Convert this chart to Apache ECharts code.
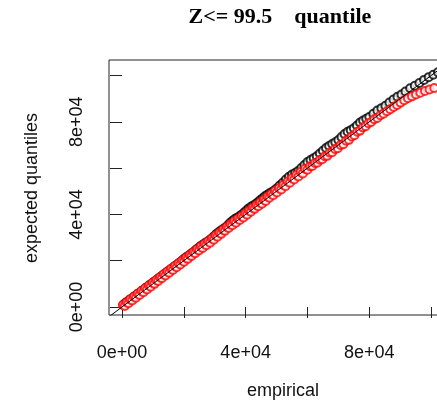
<!DOCTYPE html>
<html>
<head>
<meta charset="utf-8">
<script src="https://cdn.jsdelivr.net/npm/echarts@6/dist/echarts.min.js"></script>
<style>html,body{margin:0;padding:0;background:#fff;}#c{width:437px;height:405px;}</style>
</head>
<body>
<div id="c"></div>
<script>
// empirical (x) vs expected quantiles (y), black series
var blackPts = [[500,1000],[1150,1800],[1800,2300],[2450,3100],[3100,3500],[3750,4300],[4400,4800],[5050,5600],[5700,6100],[6350,6900],[7000,7400],[7650,8200],[8300,8700],[8950,9500],[9600,10000],[10250,10800],[10900,11300],[11550,12100],[12200,12600],[12850,13400],[13500,13900],[14150,14700],[14800,15200],[15450,16000],[16100,16500],[16750,17300],[17400,17800],[18050,18600],[18700,19100],[19350,19900],[20000,20700],[20750,21500],[21500,22100],[22250,22900],[23000,23600],[23750,24500],[24500,25300],[25250,26100],[26000,26800],[26750,27500],[27500,28100],[28250,28800],[29000,29600],[29750,30500],[30500,31500],[31250,32300],[32000,33000],[32750,33700],[33500,34400],[34250,35300],[35000,36400],[35750,37300],[36500,38000],[37250,38600],[38000,39200],[38750,39900],[39500,40800],[40250,41700],[41000,42600],[41750,43300],[42500,43900],[43250,44500],[44000,45300],[44750,46200],[45500,47000],[46250,47800],[47000,48500],[47750,49100],[48500,49700],[49250,50300],[50000,51200],[51000,52500],[52000,53700],[53000,55100],[54000,56300],[55000,57200],[56000,57900],[57000,58800],[58000,60000],[59000,61300],[60000,62600],[61000,63500],[62000,64300],[63000,65100],[64000,66300],[65000,67500],[66000,68700],[67000,69600],[68000,70400],[69000,71200],[70000,72100],[71000,73400],[72000,74700],[73000,75700],[74000,76400],[75000,77200],[76000,78400],[77000,79700],[78000,80600],[79000,81300],[80000,82100],[81300,83500],[82600,84900],[83900,85900],[85200,86900],[86500,88300],[87800,89600],[89100,90800],[90400,91800],[91700,93100],[93200,94500],[94700,95600],[96200,96800],[97700,98100],[99200,99300],[100700,100300],[102200,101400],[103700,102600]];
// red series
var redPts = [[300,900],[900,400],[1500,2100],[2100,1600],[2700,3300],[3300,2800],[3900,4500],[4500,4000],[5100,5700],[5700,5200],[6300,6900],[6900,6400],[7500,8100],[8100,7600],[8700,9300],[9300,8800],[9900,10500],[10500,10000],[11100,11700],[11700,11200],[12300,12900],[12900,12400],[13500,14100],[14100,13600],[14700,15300],[15300,14800],[15900,16500],[16500,16000],[17100,17700],[17700,17200],[18300,18900],[18900,18400],[19500,20100],[20100,19600],[20700,21300],[21300,20800],[21900,22500],[22500,22000],[23100,23700],[23700,23200],[24300,24900],[24900,24400],[25500,26100],[26100,25500],[26700,27200],[27300,26700],[27900,28400],[28500,27800],[29100,29600],[29700,29100],[30300,30900],[30900,30400],[31500,32100],[32100,31600],[32700,33400],[33300,32900],[33900,34600],[34500,34100],[35100,35800],[35700,35300],[36300,37000],[36900,36400],[37500,38100],[38100,37600],[38700,39200],[39300,38700],[39900,40400],[40500,39900],[41100,41600],[41700,41200],[42300,42900],[42900,42400],[43500,44000],[44100,43500],[44700,45100],[45300,44600],[45900,46300],[46500,45800],[47100,47600],[47700,47200],[48300,48800],[48900,48300],[49500,50100],[50100,49500],[50800,51300],[51500,50800],[52200,52700],[52900,52200],[53600,54200],[54300,53700],[55000,55600],[55700,55100],[56400,57000],[57100,56400],[57800,58300],[58500,57700],[59200,59700],[60000,59300],[60800,60800],[61600,60900],[62400,62200],[63200,62300],[64000,63600],[64800,63800],[65600,65100],[66400,65300],[67200,66700],[68000,66900],[68900,68300],[69800,68600],[70700,70000],[71600,70300],[72500,71800],[73400,72200],[74300,73700],[75200,74200],[76100,75700],[77000,76200],[77900,77600],[78800,78100],[79700,79400],[80600,79900],[81600,81100],[82600,81700],[83600,82800],[84600,83500],[85700,84600],[86800,85400],[87900,86400],[89000,87300],[90100,88300],[91300,89300],[92500,90200],[93800,91000],[95100,91800],[96500,92600],[98000,93300],[99500,94000],[101000,94600]];
// reference line y = x
var refLine = [[-10000,-10000],[120000,120000]];
var tickValues = [0,20000,40000,60000,80000,100000];
var labelValues = [0,40000,80000];
var titleText = 'Z<= 99.5    quantile';
var xName = 'empirical';
var yName = 'expected quantiles';

function sci(v){
  if (v === 0) return '0e+00';
  var e = Math.floor(Math.log10(Math.abs(v)));
  var m = v / Math.pow(10, e);
  return (Math.round(m*100)/100) + 'e+' + (e < 10 ? '0' + e : e);
}

var chart = echarts.init(document.getElementById('c'), null, {renderer:'canvas'});
var sans = 'Liberation Sans, Arial, sans-serif';
chart.setOption({
  animation: false,
  backgroundColor: '#fff',
  grid: {left:109, top:60, width:341, height:255, outerBoundsMode:'none', containLabel:false, show:true, borderColor:'#222', borderWidth:1, backgroundColor:'transparent'},
  xAxis: {
    type:'value', min:-4200, max:106100,
    axisLine:{show:false},
    splitLine:{show:false},
    axisTick:{show:true, customValues:tickValues, length:11, lineStyle:{color:'#222', width:1}},
    axisLabel:{show:true, customValues:labelValues, formatter:sci, margin:29, fontSize:18, fontFamily:sans, color:'#111'}
  },
  yAxis: {
    type:'value', min:-3450, max:106700,
    axisLine:{show:false},
    splitLine:{show:false},
    axisTick:{show:true, customValues:tickValues, length:12, lineStyle:{color:'#222', width:1}},
    axisLabel:{show:true, customValues:labelValues, formatter:sci, rotate:90, margin:23, fontSize:18, fontFamily:sans, color:'#111'}
  },
  graphic: [
    {type:'text', x:280, y:17, style:{text:titleText, font:'bold 22px "Liberation Serif", "Times New Roman", serif', fill:'#000', align:'center', verticalAlign:'middle'}},
    {type:'text', x:283, y:391, style:{text:xName, font:'18px "Liberation Sans", Arial, sans-serif', fill:'#111', align:'center', verticalAlign:'middle'}},
    {type:'text', x:32, y:188, rotation:Math.PI/2, style:{text:yName, font:'18px "Liberation Sans", Arial, sans-serif', fill:'#111', align:'center', verticalAlign:'middle'}}
  ],
  series: [
    {type:'scatter', data:blackPts, symbol:'emptyCircle', symbolSize:8, itemStyle:{color:'#000', borderColor:'#000', borderWidth:1.1}, z:2, silent:true},
    {type:'scatter', data:redPts, symbol:'emptyCircle', symbolSize:8, itemStyle:{color:'#ff0000', borderColor:'#ff0000', borderWidth:1.2}, z:3, silent:true},
    {type:'line', data:refLine, symbol:'none', lineStyle:{color:'#000', width:1}, z:4, silent:true, clip:true}
  ]
});
</script>
</body>
</html>
